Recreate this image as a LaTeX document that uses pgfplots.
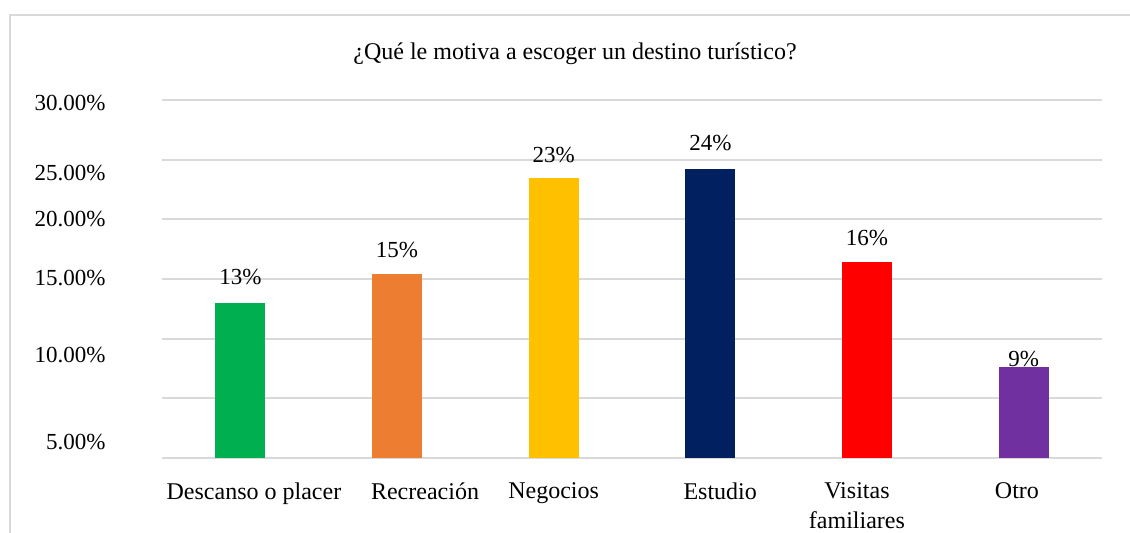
\documentclass[border=0pt]{standalone}
\usepackage{pgfplots}
\pgfplotsset{compat=1.18}
\usepackage{fontspec}
\setmainfont{Liberation Serif}
\definecolor{cgreen}{HTML}{00B050}
\definecolor{corange}{HTML}{ED7D31}
\definecolor{cyellow}{HTML}{FFC000}
\definecolor{cnavy}{HTML}{002060}
\definecolor{cred}{HTML}{FF0000}
\definecolor{cpurple}{HTML}{7030A0}
\definecolor{gridgray}{HTML}{D9D9D9}
\begin{document}
\begin{tikzpicture}
\path[use as bounding box] (0,0) rectangle (565pt,266.5pt);
\draw[gridgray, line width=1pt] (5pt,0) -- (5pt,259pt) -- (565pt,259pt);
\begin{axis}[
  at={(81pt,37.5pt)}, anchor=south west,
  scale only axis, width=470pt, height=179pt,
  xmin=-0.5, xmax=5.5, ymin=0, ymax=30,
  axis line style={draw=none},
  tick style={draw=none},
  font=\fontsize{11.5}{14.5}\selectfont,
  /pgf/number format/assume math mode=true,
  ytick={29.76,23.89,20.03,15.09,8.63,1.34},
  yticklabels={30.00\%,25.00\%,20.00\%,15.00\%,10.00\%,5.00\%},
  yticklabel style={anchor=east, inner sep=0pt, xshift=-28pt},
  minor ytick={0,5,...,30},
  yminorgrids, ymajorgrids=false,
  minor grid style={gridgray, line width=0.9pt},
  xtick={0.087,1.179,2,3.063,3.936,4.957},
  xticklabels={Descanso o placer,Recreación,Negocios,Estudio,Visitas\\familiares,Otro},
  xticklabel style={anchor=north, align=center, inner sep=0pt, yshift=-8pt, font=\fontsize{12}{14.8}\selectfont},
  title={¿Qué le motiva a escoger un destino turístico?},
  title style={at={(axis description cs:0.4394,1.095)}, anchor=center, inner sep=0pt, font=\fontsize{12}{14}\selectfont},
  ybar, bar width=25pt, bar shift=0pt,
  nodes near coords, point meta=explicit symbolic,
  every node near coord/.append style={anchor=center, inner sep=0pt, font=\fontsize{11.5}{14}\selectfont, text=black},
]
\addplot[fill=cgreen, draw=none, nodes near coords style={yshift=13pt}] coordinates {(0,12.99) [13\%]};
\addplot[fill=corange, draw=none, nodes near coords style={yshift=12pt}] coordinates {(1,15.42) [15\%]};
\addplot[fill=cyellow, draw=none, nodes near coords style={yshift=11.5pt}] coordinates {(2,23.47) [23\%]};
\addplot[fill=cnavy, draw=none, nodes near coords style={yshift=13pt}] coordinates {(3,24.22) [24\%]};
\addplot[fill=cred, draw=none, nodes near coords style={yshift=12pt}] coordinates {(4,16.43) [16\%]};
\addplot[fill=cpurple, draw=none, nodes near coords style={yshift=4pt}] coordinates {(5,7.63) [9\%]};
\end{axis}
\end{tikzpicture}
\end{document}
